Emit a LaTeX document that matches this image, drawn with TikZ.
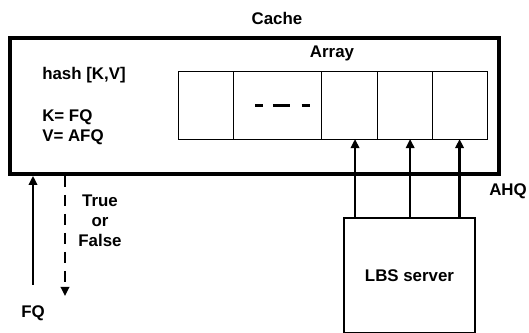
\documentclass[tikz,border=0pt]{standalone}
\usepackage{fontspec}
\setmainfont{Liberation Sans}
\usetikzlibrary{positioning, arrows.meta}

\begin{document}
\begin{tikzpicture}[
  x=0.025cm, y=0.025cm,
  lbl/.style={font=\bfseries\fontsize{12}{14.4}\selectfont, text=black, align=center, inner sep=0pt},
  frame/.style={rectangle, draw=black, line width=2.6pt, minimum width=12.225cm, minimum height=3.4cm},
  cell/.style={rectangle, draw=black, line width=0.7pt, outer sep=0pt, minimum height=1.675cm, inner sep=0pt},
  server/.style={rectangle, draw=black, line width=1.8pt, minimum width=3.275cm, minimum height=2.875cm,
    font=\bfseries\fontsize{12}{14.4}\selectfont},
  arr/.style={-{Triangle[length=6.5pt, width=6pt]}, line width=1.8pt},
  dasharr/.style={arr, dash pattern=on 8pt off 5.5pt}
]
\useasboundingbox (0,0) rectangle (529,333);

\node[frame] (cache) at (254.5,227) {};
\node[lbl] (cachelbl) at (277,315) {Cache};
\node[lbl, anchor=west] (hash) at (42,258) {hash [K,V]};
\node[lbl, anchor=west, align=left] (kv) at (42,206) {K= FQ\\V= AFQ};

\node[cell, minimum width=1.375cm] (c1) at (205.5,227.5) {};
\node[cell, minimum width=2.2cm, right=0pt of c1] (c2) {};
\node[cell, minimum width=1.4cm, right=0pt of c2] (c3) {};
\node[cell, minimum width=1.375cm, right=0pt of c3] (c4) {};
\node[cell, minimum width=1.375cm, right=0pt of c4] (c5) {};
\node[lbl] (arraylbl) at (332,280) {Array};
\draw[line width=1.5pt, dash pattern=on 5.7pt off 7pt on 12pt off 8.5pt]
  ([xshift=-0.55cm]c2.center) -- ([xshift=0.83cm]c2.center);

\node[server] (lbs) at (409.5,57.5) {LBS server};
\node[lbl] (ahq) at (508,142) {AHQ};

\foreach \c/\s in {c3/0.15cm, c4/0.14cm, c5/0cm} {
  \coordinate (t) at ([xshift=\s]\c.south);
  \draw[arr] (t |- lbs.north) -- (t);
}

\node[lbl] (fq) at (33,20) {FQ};
\coordinate (fqtail) at (33,48);
\draw[arr] (fqtail) -- (fqtail |- cache.south);

\coordinate (tfhead) at (65,37);
\draw[dasharr] (tfhead |- cache.south) -- (tfhead);
\node[lbl] (tf) at (100,112) {True\\or\\False};
\end{tikzpicture}
\end{document}
